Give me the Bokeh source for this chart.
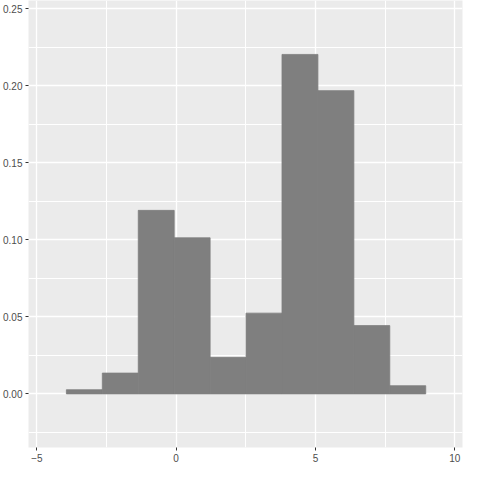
from bokeh.plotting import figure
from bokeh.models import Range1d, FixedTicker, PrintfTickFormatter
from bokeh.embed import file_html
from bokeh.resources import INLINE

# Histogram (density)
bin_edges = [-3.94, -2.65, -1.36, -0.07, 1.22, 2.51, 3.80, 5.09, 6.38, 7.67, 8.96]
density = [0.0027, 0.0135, 0.1191, 0.1013, 0.0237, 0.0524, 0.2203, 0.1968, 0.0443, 0.0053]

x_ticks = [-5, 0, 5, 10]
x_minor = [-7.5, -2.5, 2.5, 7.5, 12.5]
y_ticks = [0.0, 0.05, 0.10, 0.15, 0.20, 0.25]
y_minor = [-0.025, 0.025, 0.075, 0.125, 0.175, 0.225, 0.275]

p = figure(width=464, height=464, output_backend="svg", toolbar_location=None,
           x_range=Range1d(-5.30, 10.28), y_range=Range1d(-0.0348, 0.2553),
           min_border_left=22, min_border_right=2, min_border_top=0, min_border_bottom=16)

p.background_fill_color = "#EBEBEB"
p.border_fill_color = "white"
p.outline_line_color = None

p.quad(left=bin_edges[:-1], right=bin_edges[1:], top=density, bottom=0,
       fill_color="#7F7F7F", line_color="#7F7F7F", line_width=0.8)

p.xaxis.ticker = FixedTicker(ticks=x_ticks, minor_ticks=x_minor)
p.yaxis.ticker = FixedTicker(ticks=y_ticks, minor_ticks=y_minor)
p.yaxis.formatter = PrintfTickFormatter(format="%.2f")

for ax in (p.xaxis, p.yaxis):
    ax.axis_line_color = None
    ax.major_tick_line_color = "#333333"
    ax.major_tick_out = 3
    ax.major_tick_in = 0
    ax.minor_tick_line_color = None
    ax.major_label_text_font = "Liberation Sans"
    ax.major_label_text_font_size = "10px"
    ax.major_label_text_color = "#4D4D4D"
    ax.major_label_standoff = 2

for g in (p.xgrid, p.ygrid):
    g.grid_line_color = "white"
    g.grid_line_width = 1.3
    g.minor_grid_line_color = "white"
    g.minor_grid_line_width = 1.0

open("out.html", "w").write(file_html(p, INLINE))
